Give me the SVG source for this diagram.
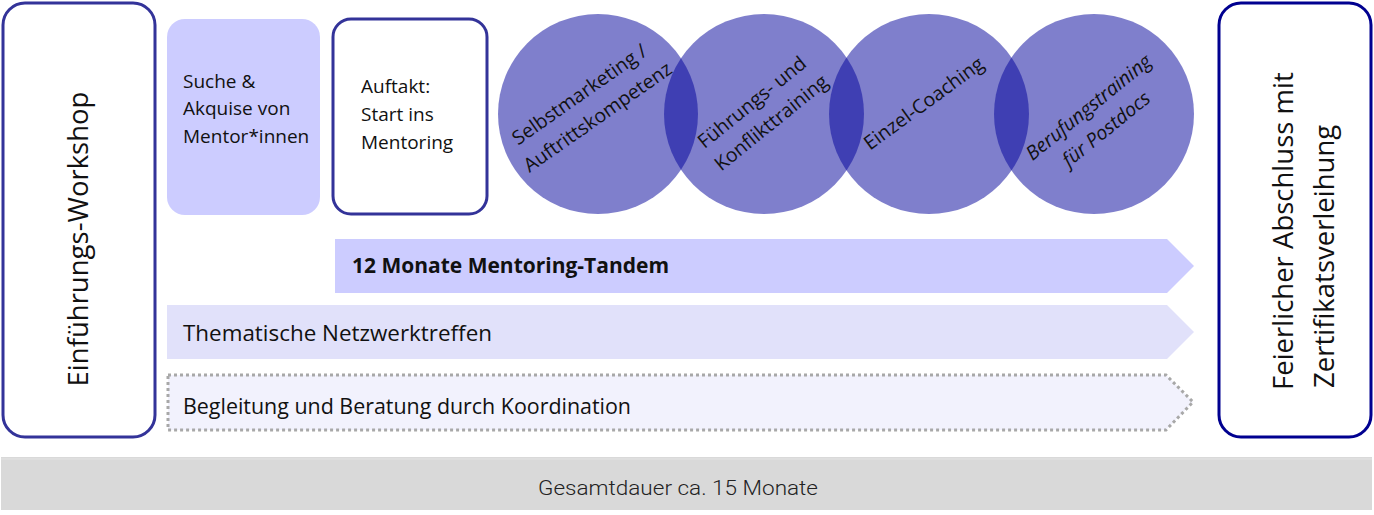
<svg xmlns="http://www.w3.org/2000/svg" width="1374" height="515" viewBox="0 0 1374 515">
<style>
  text { font-family: "Open Sans", "Noto Sans", sans-serif; fill: #111; }
  .box { fill: #fff; stroke: #333399; stroke-width: 3; }
  .side { font-size: 27.5px; }
  .small { font-size: 19px; }
  .circ { fill: #000099; fill-opacity: 0.5; }
  .ctext { font-size: 19.5px; text-anchor: middle; }
  .bar { font-size: 21.5px; }
</style>
<rect width="1374" height="515" fill="#fff"/>
<g id="einfuehrung">
  <rect class="box" x="3" y="3" width="152" height="434" rx="22"/>
  <text class="side" transform="translate(88,239) rotate(-90)" text-anchor="middle">Einführungs-Workshop</text>
</g>
<g id="suche">
  <rect x="167" y="19" width="153" height="196" rx="18" fill="#ccccff"/>
  <text class="small"><tspan x="183" y="88">Suche &amp;</tspan><tspan x="183" y="115">Akquise von</tspan><tspan x="183" y="143">Mentor*innen</tspan></text>
</g>
<g id="auftakt">
  <rect class="box" x="333" y="19" width="154" height="195" rx="18"/>
  <text class="small"><tspan x="361" y="93">Auftakt:</tspan><tspan x="361" y="121">Start ins</tspan><tspan x="361" y="149">Mentoring</tspan></text>
</g>
<g id="circles">
  <g id="selbstmarketing">
    <circle class="circ" cx="598" cy="114" r="100"/>
  </g>
  <g id="fuehrung">
    <circle class="circ" cx="764" cy="114" r="100"/>
  </g>
  <g id="coaching">
    <circle class="circ" cx="929" cy="114" r="100"/>
  </g>
  <g id="berufung">
    <circle class="circ" cx="1094" cy="114" r="100"/>
  </g>
  <text class="ctext" transform="translate(598,114) rotate(-35)"><tspan x="-4" y="-20">Selbstmarketing /</tspan><tspan x="-2" y="9">Auftrittskompetenz</tspan></text>
  <text class="ctext" transform="translate(764,114) rotate(-39)"><tspan x="-2" y="-10">Führungs- und</tspan><tspan x="0" y="18">Konflikttraining</tspan></text>
  <text class="ctext" transform="translate(929,114) rotate(-36)"><tspan x="2" y="-5">Einzel-Coaching</tspan></text>
  <text class="ctext" font-style="italic" transform="translate(1094,114) rotate(-39)"><tspan x="0" y="-2">Berufungstraining</tspan><tspan x="0" y="26">für Postdocs</tspan></text>
</g>
<g id="tandem">
  <polygon points="335,239 1167,239 1194,266 1167,293 335,293" fill="#ccccff"/>
  <text class="bar" x="352" y="273" font-size="21" font-weight="bold" textLength="317" lengthAdjust="spacingAndGlyphs">12 Monate Mentoring-Tandem</text>
</g>
<g id="netzwerk">
  <polygon points="167,305 1167,305 1194,332 1167,359 167,359" fill="#e1e1fa"/>
  <text class="bar" x="183" y="341" textLength="309" lengthAdjust="spacingAndGlyphs">Thematische Netzwerktreffen</text>
</g>
<g id="begleitung">
  <polygon points="168,375 1166,375 1193,402 1166,430 168,430" fill="#f2f2fd" stroke="#a8a8a8" stroke-width="3" stroke-dasharray="3 3"/>
  <text class="bar" x="183" y="414" textLength="448" lengthAdjust="spacingAndGlyphs">Begleitung und Beratung durch Koordination</text>
</g>
<g id="abschluss">
  <rect x="1219" y="3" width="152" height="434" rx="22" fill="#fff" stroke="#000090" stroke-width="3"/>
  <text class="side" transform="translate(1293,390) rotate(-90)">Feierlicher Abschluss mit</text>
  <text class="side" transform="translate(1334,388) rotate(-90)">Zertifikatsverleihung</text>
</g>
<g id="gesamtdauer">
  <rect x="1" y="457" width="1371" height="53" fill="#d9d9d9"/>
  <line x1="1" y1="459" x2="1372" y2="459" stroke="#e4e4e4" stroke-width="1"/>
  <text x="538" y="495" font-size="21" font-weight="300" textLength="280" lengthAdjust="spacingAndGlyphs" style="font-family: Roboto, 'Open Sans', sans-serif; fill:#222;">Gesamtdauer ca. 15 Monate</text>
</g>
<g id="connectors"></g>
</svg>
